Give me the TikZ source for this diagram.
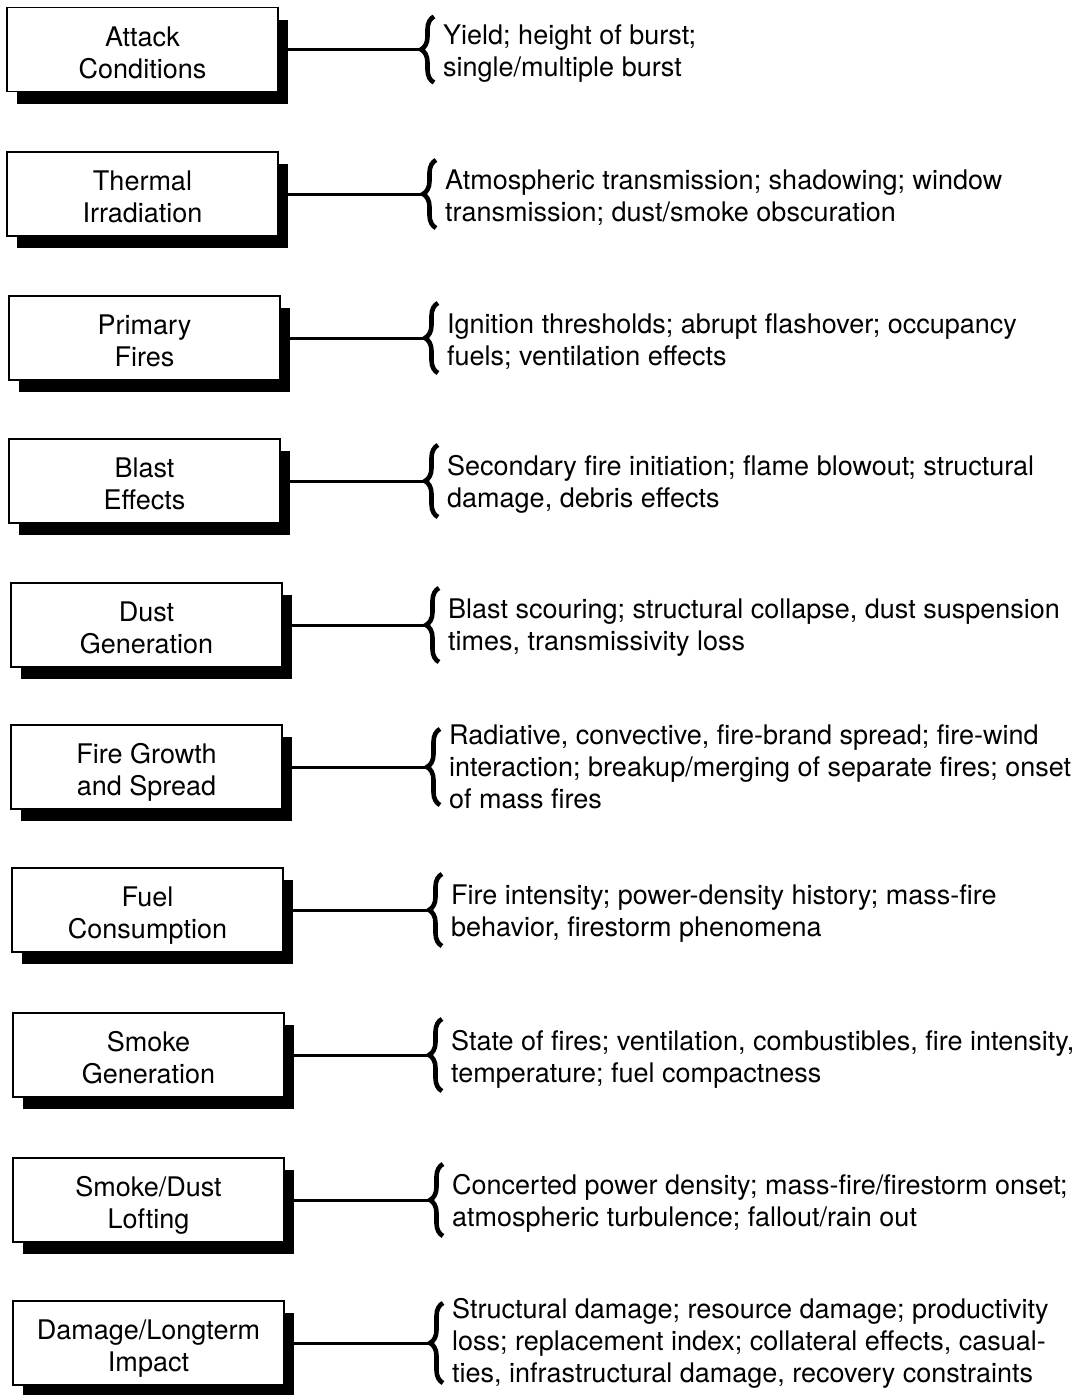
\documentclass[tikz,border=0pt]{standalone}
\usepackage{fontspec}
\setmainfont{TeX Gyre Heros}
\usetikzlibrary{decorations.pathreplacing,shadows,calc}
\newcommand\topstrut{\rule{0pt}{31pt}}
\newcommand\botstrut{\rule[-6pt]{0pt}{6pt}}
\newcommand\diagrow[8]{%
  \node[box] (b#1) at (#3+135.5,#2) {\topstrut#6\botstrut};
  \coordinate (t#1) at (#4-22,#2);
  \draw[link] (b#1.east) -- (t#1);
  \draw[brc] (#4-9,#2+#5) -- (#4-9,#2-#5);
  \node[desc] (d#1) at (#4,#2+#8) {#7};
}
\begin{document}
\begin{tikzpicture}[x=1pt,y=-1pt,
  box/.style={draw, line width=1.4pt, fill=white, minimum width=271pt,
    minimum height=84pt, inner sep=0pt, align=center,
    font=\fontsize{27}{32}\selectfont,
    drop shadow={shadow xshift=10pt, shadow yshift=-12pt, fill=black, opacity=1}},
  link/.style={line width=3pt},
  brc/.style={decorate, decoration={brace, amplitude=13pt}, line width=4.6pt},
  desc/.style={anchor=west, align=left, inner sep=0pt,
    font=\fontsize{27}{32}\selectfont}]
\fill[white] (0,0) rectangle (1086,1395);
\useasboundingbox (0,0) rectangle (1086,1395);
\diagrow{1}{49.5}{7}{443}{33}{Attack\\Conditions}{Yield; height of burst;\\single/multiple burst}{4}
\diagrow{2}{194}{7}{445}{34}{Thermal\\Irradiation}{Atmospheric transmission; shadowing; window\\transmission; dust/smoke obscuration}{4}
\diagrow{3}{338}{9}{447}{35}{Primary\\Fires}{Ignition thresholds; abrupt flashover; occupancy\\fuels; ventilation effects}{4}
\diagrow{4}{481}{9}{447}{36}{Blast\\Effects}{Secondary fire initiation; flame blowout; structural\\damage, debris effects}{3}
\diagrow{5}{625}{11}{448}{37}{Dust\\Generation}{Blast scouring; structural collapse, dust suspension\\times, transmissivity loss}{3}
\diagrow{6}{767}{11}{449}{38}{Fire Growth\\and Spread}{Radiative, convective, fire-brand spread; fire-wind\\interaction; breakup/merging of separate fires; onset\\of mass fires}{0}
\diagrow{7}{910}{12}{451}{36}{Fuel\\Consumption}{Fire intensity; power-density history; mass-fire\\behavior, firestorm phenomena}{4}
\diagrow{8}{1055}{13}{451}{36}{Smoke\\Generation}{State of fires; ventilation, combustibles, fire intensity,\\temperature; fuel compactness}{4}
\diagrow{9}{1200}{13}{452}{36}{Smoke/Dust\\Lofting}{Concerted power density; mass-fire/firestorm onset;\\atmospheric turbulence; fallout/rain out}{3}
\diagrow{10}{1343}{13}{452}{40}{Damage/Longterm\\Impact}{Structural damage; resource damage; productivity\\loss; replacement index; collateral effects, casual-\\ties, infrastructural damage, recovery constraints}{0}
\end{tikzpicture}
\end{document}
